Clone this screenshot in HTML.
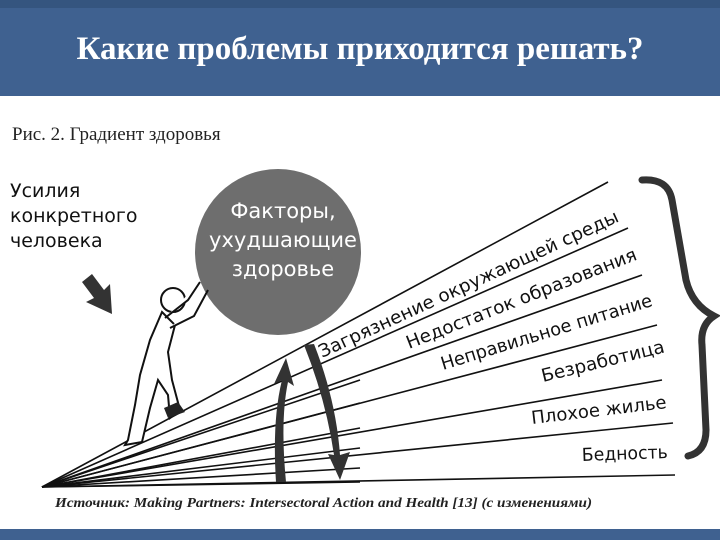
<!DOCTYPE html>
<html><head><meta charset="utf-8"><style>
html,body{margin:0;padding:0;width:720px;height:540px;overflow:hidden;background:#fff}
</style></head><body>
<svg width="720" height="540" xmlns="http://www.w3.org/2000/svg" font-family="'DejaVu Sans','Liberation Sans',sans-serif">
<rect x="0" y="0" width="720" height="96" fill="#3f6190"/>
<rect x="0" y="0" width="720" height="8" fill="#35557f"/>
<rect x="0" y="529" width="720" height="11" fill="#3f6190"/>
<text x="360" y="59" text-anchor="middle" font-family="'Liberation Serif',serif" font-weight="bold" font-size="33" fill="#fff">Какие проблемы приходится решать?</text>
<text x="12" y="140" font-family="'Liberation Serif',serif" font-size="19" fill="#222">Рис. 2. Градиент здоровья</text>
<g font-size="19" fill="#111">
<text x="10" y="197">Усилия</text>
<text x="10" y="222">конкретного</text>
<text x="10" y="247">человека</text>
</g>
<polygon points="82,282 92,274 104,290 110,284 112,314 86,302 94,298" fill="#333"/>
<circle cx="278" cy="252" r="83" fill="#6e6e6e"/>
<g font-size="21" fill="#fff" text-anchor="middle">
<text x="283" y="218">Факторы,</text>
<text x="283" y="247">ухудшающие</text>
<text x="283" y="276">здоровье</text>
</g>
<g stroke="#111" stroke-width="1.6" fill="none">
<line x1="42" y1="487" x2="608" y2="182"/>
<line x1="42" y1="487" x2="628" y2="228"/>
<line x1="42" y1="487" x2="642" y2="275"/>
<line x1="42" y1="487" x2="657" y2="325"/>
<line x1="42" y1="487" x2="662" y2="380"/>
<line x1="42" y1="487" x2="673" y2="423"/>
<line x1="42" y1="487" x2="675" y2="475"/>
<line x1="42" y1="487" x2="360" y2="380"/>
<line x1="42" y1="487" x2="360" y2="403"/>
<line x1="42" y1="487" x2="360" y2="428"/>
<line x1="42" y1="487" x2="360" y2="448"/>
<line x1="42" y1="487" x2="360" y2="468"/>
<line x1="42" y1="487" x2="360" y2="482"/>
</g>
<g stroke="#111" stroke-width="2" fill="#fff">
<circle cx="173" cy="300" r="12"/>
<path d="M162,312 L150,340 L140,375 L135,405 L128,440 L125,445 L142,442 L150,408 L158,380 L168,395 L170,418 L180,410 L172,380 L168,352 L175,325 Z"/>
<path d="M165,318 L188,300 L200,282 M170,328 L194,316 L208,290"/>
</g>
<polygon points="164,408 178,402 185,412 168,418" fill="#222"/>
<path d="M276,482 Q272,420 282,380 L274,384 L286,358 L294,386 L288,382 Q280,420 286,482 Z" fill="#333"/>
<path d="M304,345 L314,344 Q336,400 340,455 L350,452 L340,480 L328,454 L334,455 Q326,400 304,345 Z" fill="#333"/>
<g font-size="18" fill="#111">
<text transform="translate(322,358) rotate(-24.7)" textLength="328" lengthAdjust="spacingAndGlyphs">Загрязнение окружающей среды</text>
<text transform="translate(409,349) rotate(-21.4)" textLength="246" lengthAdjust="spacingAndGlyphs">Недостаток образования</text>
<text transform="translate(443,370) rotate(-17)" textLength="220" lengthAdjust="spacingAndGlyphs">Неправильное питание</text>
<text transform="translate(543,382) rotate(-13.7)" textLength="126" lengthAdjust="spacingAndGlyphs">Безработица</text>
<text transform="translate(532,424) rotate(-6.7)" textLength="136" lengthAdjust="spacingAndGlyphs">Плохое жилье</text>
<text transform="translate(582,461) rotate(-2)" textLength="86" lengthAdjust="spacingAndGlyphs">Бедность</text>
</g>
<path d="M642,180 Q668,178 672,200 L686,280 Q692,305 714,316 Q700,325 702,345 L706,430 Q706,452 688,456" fill="none" stroke="#333" stroke-width="7" stroke-linecap="round"/>
<text x="55" y="507" font-family="'Liberation Serif',serif" font-style="italic" font-weight="bold" font-size="14" fill="#222" textLength="537" lengthAdjust="spacingAndGlyphs">Источник: Making Partners: Intersectoral Action and Health [13] (с изменениями)</text>
</svg>
</body></html>
